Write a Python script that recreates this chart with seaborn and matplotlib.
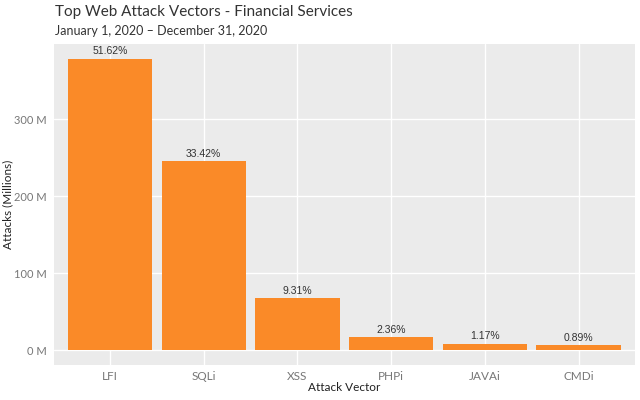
import numpy as np
import pandas as pd
import matplotlib
matplotlib.use('Agg')
import matplotlib.pyplot as plt
import seaborn as sns

# data (millions of attacks, share of total)
vectors = ['LFI', 'SQLi', 'XSS', 'PHPi', 'JAVAi', 'CMDi']
attacks_m = [378.4, 245.0, 68.2, 17.3, 8.6, 6.5]
share_labels = ['51.62%', '33.42%', '9.31%', '2.36%', '1.17%', '0.89%']
y_ticks = [0, 100, 200, 300]

df = pd.DataFrame({'vector': vectors, 'attacks': attacks_m})

sns.set_theme(style='darkgrid', rc={
    'axes.facecolor': '#EBEBEB',
    'grid.color': 'white',
    'grid.linewidth': 1.0,
    'axes.edgecolor': '#EBEBEB',
})
plt.rcParams['font.family'] = ['Lato', 'DejaVu Sans']

fig = plt.figure(figsize=(6.4, 4.0), dpi=100)
ax = fig.add_axes([0.084, 0.0875, 0.908, 0.8025])

sns.barplot(data=df, x='vector', y='attacks', color='#FA8A28', width=0.9,
            saturation=1, linewidth=0, ax=ax)
ax.xaxis.grid(True)
ax.yaxis.grid(True)
ax.set_axisbelow(True)

for i, (v, lab) in enumerate(zip(attacks_m, share_labels)):
    ax.text(i, v + 3, lab, ha='center', va='bottom', fontsize=7.5,
            color='#333333', family=['Liberation Sans', 'DejaVu Sans'])

top = max(attacks_m)
ax.set_ylim(-0.05 * top, top * 1.05)
ax.set_xlim(-0.6, len(vectors) - 0.4)
ax.set_yticks(y_ticks)
ax.set_yticklabels([f'{t} M' for t in y_ticks])
for s in ax.spines.values():
    s.set_visible(False)
ax.tick_params(axis='both', length=3, color='#555555',
               labelcolor='#777777', pad=2)
ax.tick_params(axis='y', labelsize=8)
ax.tick_params(axis='x', labelsize=8.5, pad=1)
ax.set_xlabel('Attack Vector', fontsize=8.5, color='#222222', labelpad=0)
ax.set_ylabel('Attacks (Millions)', fontsize=8.5, color='#222222')
ax.yaxis.set_label_coords(-0.07, 0.5)

fig.text(0.086, 0.97, 'Top Web Attack Vectors - Financial Services',
         fontsize=11, color='#333333', ha='left', va='center')
fig.text(0.086, 0.922, 'January 1, 2020 \u2013 December 31, 2020',
         fontsize=9, color='#333333', ha='left', va='center')

plt.savefig('out.png', dpi=100)
plt.close()
